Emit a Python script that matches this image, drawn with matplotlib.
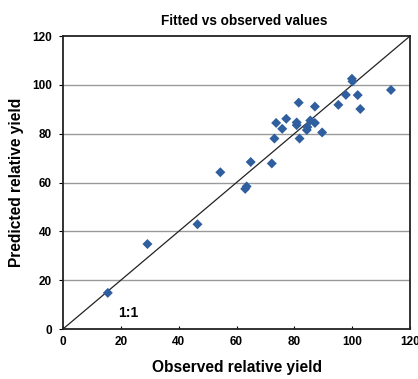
import numpy as np
import matplotlib.pyplot as plt

# Observed vs predicted relative yield
observed = [15.5, 29.2, 46.5, 54.4, 63.0, 63.5, 64.9, 72.2, 73.1, 73.7,
            75.8, 77.2, 80.8, 80.8, 81.5, 81.8, 84.3, 84.5, 85.5, 87.1,
            87.1, 89.6, 95.2, 97.8, 99.9, 100.1, 101.9, 102.8, 113.4]
predicted = [14.8, 34.8, 42.9, 64.2, 57.4, 58.4, 68.4, 67.8, 78.0, 84.4,
             82.0, 86.1, 84.6, 83.5, 92.7, 78.0, 81.5, 82.7, 85.4, 91.1,
             84.4, 80.5, 91.8, 95.9, 102.5, 101.4, 95.8, 90.1, 97.9]

ticks = [0, 20, 40, 60, 80, 100, 120]

plt.rcParams['font.family'] = ['Liberation Sans', 'DejaVu Sans']
plt.rcParams['font.weight'] = 'bold'

fig = plt.figure(figsize=(4.18, 3.79), dpi=100)
ax = fig.add_axes([0.1507, 0.1319, 0.8303, 0.7731])

# horizontal gridlines
for t in ticks[1:-1]:
    ax.axhline(t, color='#9a9a9a', linewidth=1.0, zorder=0)

# 1:1 line
ax.plot([0, 120], [0, 120], color='#222222', linewidth=0.9, zorder=1)

ax.scatter(observed, predicted, marker='D', s=26, color='#2f5f9e',
           edgecolors='none', zorder=3)

ax.text(22.5, 6.7, '1:1', fontsize=10, fontweight='bold',
        ha='center', va='center')

ax.set_xlim(0, 120)
ax.set_ylim(0, 120)
ax.set_xticks(ticks)
ax.set_yticks(ticks)
ax.tick_params(axis='x', direction='in', length=2, width=0.8,
               labelsize=8.5, pad=5)
ax.tick_params(axis='y', direction='out', length=3, width=0.8,
               labelsize=8.5, pad=5)
for lab in ax.get_xticklabels() + ax.get_yticklabels():
    lab.set_fontweight('bold')

for s in ax.spines.values():
    s.set_linewidth(1.3)
    s.set_color('#222222')

ax.set_xlabel('Observed relative yield', fontsize=11.2, fontweight='bold',
              labelpad=9)
ax.set_ylabel('Predicted relative yield', fontsize=11.2, fontweight='bold',
              labelpad=6)
fig.text(244 / 418, 1 - 21 / 379, 'Fitted vs observed values', fontsize=9.8,
         fontweight='bold', ha='center', va='center')

fig.savefig('out.png', dpi=100)
